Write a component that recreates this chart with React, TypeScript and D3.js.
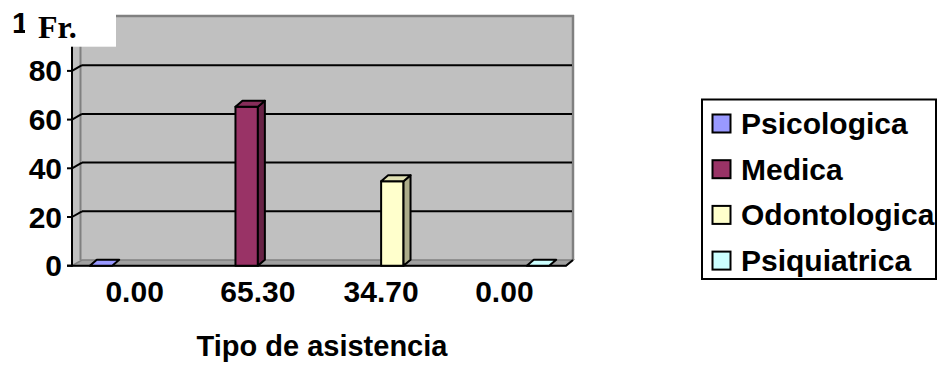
import React from "react";
import * as d3 from "d3";

const categories = ["0.00", "65.30", "34.70", "0.00"];
const seriesNames = ["Psicologica", "Medica", "Odontologica", "Psiquiatrica"];
const psicologica = [0, null, null, null];
const medica = [null, 65.3, null, null];
const odontologica = [null, null, 34.7, null];
const psiquiatrica = [null, null, null, 0];
const seriesValues = [psicologica, medica, odontologica, psiquiatrica];
const seriesColors = ["#9999FF", "#993366", "#FFFFCC", "#CCFFFF"];
const yTicks = [0, 20, 40, 60, 80, 100];
const yAxisTitle = "Fr.";
const xAxisTitle = "Tipo de asistencia";

const W = 937;
const H = 365;
const FRONT_LEFT = 72;
const FRONT_RIGHT = 566;
const BACK_LEFT = 82;
const BACK_RIGHT = 573;
const WALL_DY = 5.7;
const BAR_DX = 7;
const BAR_DY = 6;
const TITLE_BOX_X = 25;
const FONT = "'Liberation Sans', Arial, sans-serif";

export default function App() {
  const y = d3.scaleLinear().domain([0, 100]).range([265.7, 22.2]);
  const x = d3
    .scaleBand<number>()
    .domain(categories.map((_, i) => i))
    .range([73, 566])
    .paddingInner(0)
    .paddingOuter(0);
  const xs = d3
    .scaleBand<number>()
    .domain(seriesNames.map((_, i) => i))
    .range([0, x.bandwidth()])
    .paddingInner(0)
    .paddingOuter(0.75);
  const bw = xs.bandwidth();

  const y0 = y(0);
  const backTop = y(100) - WALL_DY;
  const backBottom = y0 - WALL_DY;

  const bars: JSX.Element[] = [];
  seriesValues.forEach((vals, s) => {
    vals.forEach((v, c) => {
      if (v === null) return;
      const x0 = (x(c) as number) + (xs(s) as number);
      const y1 = y(v);
      const base = d3.color(seriesColors[s])!;
      const side = d3.color(seriesColors[s])!.darker(1.1).formatHex();
      const top = d3.color(seriesColors[s])!.darker(0.35).formatHex();
      bars.push(
        <g key={`b${s}-${c}`} stroke="#000" strokeWidth={2} strokeLinejoin="round">
          {v > 0 && (
            <rect x={x0} y={y1} width={bw} height={y0 - y1} fill={base.formatHex()} />
          )}
          {v > 0 && (
            <polygon
              points={`${x0 + bw},${y1} ${x0 + bw + BAR_DX},${y1 - BAR_DY} ${x0 + bw + BAR_DX},${y0 - BAR_DY} ${x0 + bw},${y0}`}
              fill={side}
            />
          )}
          <polygon
            points={`${x0},${y1} ${x0 + BAR_DX},${y1 - BAR_DY} ${x0 + bw + BAR_DX},${y1 - BAR_DY} ${x0 + bw},${y1}`}
            fill={v > 0 ? top : base.formatHex()}
          />
        </g>
      );
    });
  });

  return (
    <svg
      width={W}
      height={H}
      style={{ position: "absolute", left: 0, top: 0, background: "#fff" }}
    >
      <defs>
        <clipPath id="hideBehindTitle">
          <rect x={0} y={0} width={TITLE_BOX_X} height={H} />
          <rect x={0} y={46.7} width={W} height={H} />
        </clipPath>
      </defs>
      {/* back wall */}
      <rect
        x={BACK_LEFT}
        y={backTop}
        width={BACK_RIGHT - BACK_LEFT}
        height={backBottom - backTop}
        fill="#c0c0c0"
      />
      {/* side wall */}
      <polygon
        points={`${FRONT_LEFT},${y(100)} ${BACK_LEFT},${backTop} ${BACK_LEFT},${backBottom} ${FRONT_LEFT},${y0}`}
        fill="#c0c0c0"
      />
      <line x1={BACK_LEFT - 1.5} x2={BACK_LEFT - 1.5} y1={backTop} y2={backBottom} stroke="#808080" strokeWidth={2} />
      {/* floor */}
      <polygon
        points={`${FRONT_LEFT},${y0} ${BACK_LEFT},${backBottom} ${BACK_RIGHT},${backBottom} ${FRONT_RIGHT},${y0}`}
        fill="#a0a0a0"
        stroke="#808080"
        strokeWidth={1.5}
      />
      {/* wall borders */}
      <line x1={BACK_LEFT} x2={BACK_RIGHT + 1} y1={backTop - 0.5} y2={backTop - 0.5} stroke="#808080" strokeWidth={2.5} />
      <line x1={BACK_RIGHT} x2={BACK_RIGHT} y1={backTop - 1.5} y2={backBottom} stroke="#808080" strokeWidth={2.5} />
      {/* gridlines */}
      {yTicks.filter((t) => t > 0 && t < 100).map((t) => (
        <g key={`g${t}`} stroke="#000" strokeWidth={2} fill="none">
          <line x1={BACK_LEFT} x2={BACK_RIGHT - 1} y1={y(t) - WALL_DY} y2={y(t) - WALL_DY} />
          <line x1={FRONT_LEFT} x2={BACK_LEFT} y1={y(t)} y2={y(t) - WALL_DY} />
        </g>
      ))}
      {/* y axis */}
      <line x1={FRONT_LEFT} x2={FRONT_LEFT} y1={y(100)} y2={y0 + 1} stroke="#000" strokeWidth={2} />
      {yTicks.map((t) => (
        <g key={`t${t}`}>
          <line x1={FRONT_LEFT - 5} x2={FRONT_LEFT} y1={y(t)} y2={y(t)} stroke="#000" strokeWidth={2} />
          <text
            x={62}
            y={y(t) + 10.5}
            textAnchor="end"
            fontFamily={FONT}
            fontWeight="bold"
            fontSize={30}
            fill="#000"
            clipPath={t === 100 ? "url(#hideBehindTitle)" : undefined}
          >
            {t}
          </text>
        </g>
      ))}
      {/* x axis */}
      <polyline
        points={`${FRONT_LEFT - 5},${y0} ${FRONT_RIGHT},${y0} ${BACK_RIGHT},${backBottom}`}
        fill="none"
        stroke="#000"
        strokeWidth={2}
      />
      {bars}
      {categories.map((c, i) => (
        <text
          key={`c${i}`}
          x={(x(i) as number) + x.bandwidth() / 2}
          y={302}
          textAnchor="middle"
          fontFamily={FONT}
          fontWeight="bold"
          fontSize={30}
          fill="#000"
        >
          {c}
        </text>
      ))}
      <text
        x={322}
        y={356}
        textAnchor="middle"
        fontFamily={FONT}
        fontWeight="bold"
        fontSize={29}
        fill="#000"
      >
        {xAxisTitle}
      </text>
      {/* y axis title box */}
      <rect x={TITLE_BOX_X} y={0} width={116 - TITLE_BOX_X} height={46.7} fill="#fff" />
      <text
        x={38}
        y={38}
        fontFamily="'Liberation Serif', 'Times New Roman', serif"
        fontWeight="bold"
        fontSize={32}
        fill="#000"
      >
        {yAxisTitle}
      </text>
      {/* legend */}
      <rect x={702} y={99.5} width={234} height={179.5} fill="#fff" stroke="#000" strokeWidth={2} />
      {seriesNames.map((n, i) => {
        const cy = 123.5 + i * 45.7;
        return (
          <g key={`l${i}`}>
            <rect
              x={712.5}
              y={cy - 9}
              width={18}
              height={18}
              fill={seriesColors[i]}
              stroke="#000"
              strokeWidth={2}
            />
            <text
              x={741}
              y={cy + 10.5}
              fontFamily={FONT}
              fontWeight="bold"
              fontSize={30}
              fill="#000"
            >
              {n}
            </text>
          </g>
        );
      })}
    </svg>
  );
}
